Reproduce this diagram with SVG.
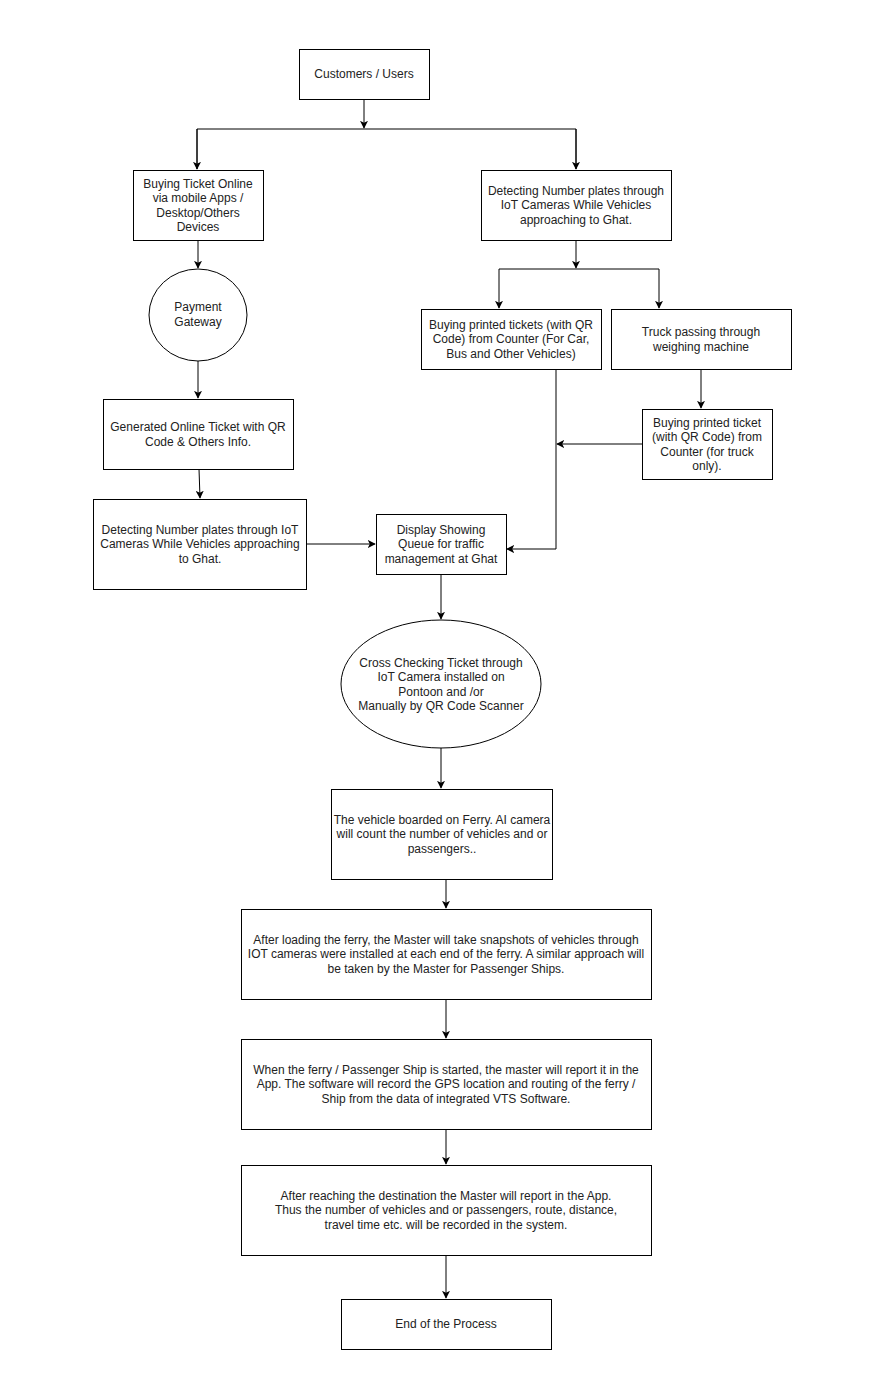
<svg xmlns="http://www.w3.org/2000/svg" width="888" height="1400" viewBox="0 0 888 1400">
<defs>
<style>
.n{fill:#fff;stroke:#000;stroke-width:1}
.t{font-family:"Liberation Sans",Arial,sans-serif;font-size:12px;fill:#222;text-anchor:middle}
.c{fill:none;stroke:#000;stroke-width:1}
</style>
<marker id="a" viewBox="0 0 10 10" refX="9" refY="5" markerWidth="8" markerHeight="8" markerUnits="userSpaceOnUse" orient="auto">
<path d="M0,0 L10,5 L0,10 L2.5,5 Z" fill="#000"/>
</marker>
</defs>
<rect width="888" height="1400" fill="#fff"/>
<g id="connectors">
<path class="c" d="M364,99 V128" marker-end="url(#a)"/>
<path class="c" d="M197,169 V129 H576 V169" />
<path class="c" d="M197,129 V169" marker-end="url(#a)"/>
<path class="c" d="M576,129 V169" marker-end="url(#a)"/>
<path class="c" d="M576,240 V268" marker-end="url(#a)"/>
<path class="c" d="M499,269 H659" />
<path class="c" d="M499,269 V308" marker-end="url(#a)"/>
<path class="c" d="M659,269 V308" marker-end="url(#a)"/>
<path class="c" d="M701,369 V408" marker-end="url(#a)"/>
<path class="c" d="M642,444 H557" marker-end="url(#a)"/>
<path class="c" d="M556,369 V549 H507" marker-end="url(#a)"/>
<path class="c" d="M198,240 V268" marker-end="url(#a)"/>
<path class="c" d="M198,361 V398" marker-end="url(#a)"/>
<path class="c" d="M199,469 L200,498" marker-end="url(#a)"/>
<path class="c" d="M306,544 H375" marker-end="url(#a)"/>
<path class="c" d="M441,574 V619" marker-end="url(#a)"/>
<path class="c" d="M441,748 V788" marker-end="url(#a)"/>
<path class="c" d="M446,879 V908" marker-end="url(#a)"/>
<path class="c" d="M446,999 V1038" marker-end="url(#a)"/>
<path class="c" d="M446,1129 V1164" marker-end="url(#a)"/>
<path class="c" d="M446,1255 V1298" marker-end="url(#a)"/>
</g>
<g id="customers">
<rect class="n" x="299.5" y="49.5" width="130" height="50"/>
<text class="t" x="364" y="78">Customers / Users</text>
</g>
<g id="buy-online">
<rect class="n" x="133.5" y="170.5" width="130" height="70"/>
<text class="t" x="198" y="188">Buying Ticket Online</text>
<text class="t" x="198" y="202">via mobile Apps /</text>
<text class="t" x="198" y="217">Desktop/Others</text>
<text class="t" x="198" y="231">Devices</text>
</g>
<g id="detect-right">
<rect class="n" x="481.5" y="170.5" width="190" height="70"/>
<text class="t" x="576" y="195">Detecting Number plates through</text>
<text class="t" x="576" y="209">IoT Cameras While Vehicles</text>
<text class="t" x="576" y="224">approaching to Ghat.</text>
</g>
<g id="printed-tickets">
<rect class="n" x="421.5" y="309.5" width="180" height="60"/>
<text class="t" x="511" y="329">Buying printed tickets (with QR</text>
<text class="t" x="511" y="343">Code) from Counter (For Car,</text>
<text class="t" x="511" y="358">Bus and Other Vehicles)</text>
</g>
<g id="truck">
<rect class="n" x="611.5" y="309.5" width="180" height="60"/>
<text class="t" x="701" y="336">Truck passing through</text>
<text class="t" x="701" y="351">weighing machine</text>
</g>
<g id="truck-ticket">
<rect class="n" x="642.5" y="409.5" width="130" height="70"/>
<text class="t" x="707" y="427">Buying printed ticket</text>
<text class="t" x="707" y="441">(with QR Code) from</text>
<text class="t" x="707" y="456">Counter (for truck</text>
<text class="t" x="707" y="470">only).</text>
</g>
<g id="payment">
<ellipse class="n" cx="198" cy="315" rx="49" ry="46"/>
<text class="t" x="198" y="311">Payment</text>
<text class="t" x="198" y="326">Gateway</text>
</g>
<g id="online-ticket">
<rect class="n" x="103.5" y="399.5" width="190" height="70"/>
<text class="t" x="198" y="431">Generated Online Ticket with QR</text>
<text class="t" x="198" y="446">Code &amp; Others Info.</text>
</g>
<g id="detect-left">
<rect class="n" x="93.5" y="499.5" width="213" height="90"/>
<text class="t" x="200" y="534">Detecting Number plates through IoT</text>
<text class="t" x="200" y="548">Cameras While Vehicles approaching</text>
<text class="t" x="200" y="563">to Ghat.</text>
</g>
<g id="display">
<rect class="n" x="376.5" y="514.5" width="130" height="60"/>
<text class="t" x="441" y="534">Display Showing</text>
<text class="t" x="441" y="548">Queue for traffic</text>
<text class="t" x="441" y="563">management at Ghat</text>
</g>
<g id="cross-check">
<ellipse class="n" cx="441" cy="684" rx="100" ry="64"/>
<text class="t" x="441" y="667">Cross Checking Ticket through</text>
<text class="t" x="441" y="681">IoT Camera installed on</text>
<text class="t" x="441" y="696">Pontoon and /or</text>
<text class="t" x="441" y="710">Manually by QR Code Scanner</text>
</g>
<g id="boarded">
<rect class="n" x="331.5" y="789.5" width="221" height="90"/>
<text class="t" x="442" y="824">The vehicle boarded on Ferry. AI camera</text>
<text class="t" x="442" y="838">will count the number of vehicles and or</text>
<text class="t" x="442" y="853">passengers..</text>
</g>
<g id="snapshots">
<rect class="n" x="241.5" y="909.5" width="410" height="90"/>
<text class="t" x="446" y="944">After loading the ferry, the Master will take snapshots of vehicles through</text>
<text class="t" x="446" y="958">IOT cameras were installed at each end of the ferry. A similar approach will</text>
<text class="t" x="446" y="973">be taken by the Master for Passenger Ships.</text>
</g>
<g id="started">
<rect class="n" x="241.5" y="1039.5" width="410" height="90"/>
<text class="t" x="446" y="1074">When the ferry / Passenger Ship is started, the master will report it in the</text>
<text class="t" x="446" y="1088">App. The software will record the GPS location and routing of the ferry /</text>
<text class="t" x="446" y="1103">Ship from the data of integrated VTS Software.</text>
</g>
<g id="destination">
<rect class="n" x="241.5" y="1165.5" width="410" height="90"/>
<text class="t" x="446" y="1200">After reaching the destination the Master will report in the App.</text>
<text class="t" x="446" y="1214">Thus the number of vehicles and or passengers, route, distance,</text>
<text class="t" x="446" y="1229">travel time etc. will be recorded in the system.</text>
</g>
<g id="end">
<rect class="n" x="341.5" y="1299.5" width="210" height="50"/>
<text class="t" x="446" y="1328">End of the Process</text>
</g>
</svg>
